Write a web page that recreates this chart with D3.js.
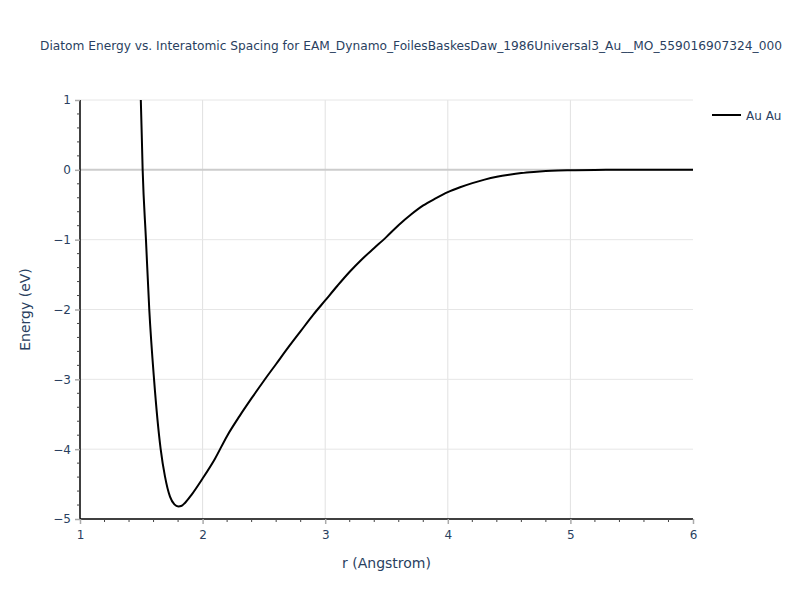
<!DOCTYPE html>
<html><head><meta charset="utf-8">
<script src="https://cdn.jsdelivr.net/npm/d3@7"></script>
<style>body{margin:0;background:#fff;} svg{font-family:"DejaVu Sans",Verdana,sans-serif;}</style>
</head><body><svg id="c" width="800" height="600"></svg>
<script>
const titleText = "Diatom Energy vs. Interatomic Spacing for EAM_Dynamo_FoilesBaskesDaw_1986Universal3_Au__MO_559016907324_000";
const seriesName = "Au Au";
const rValues = [1.47, 1.496, 1.511, 1.538, 1.565, 1.604, 1.658, 1.693, 1.734, 1.770, 1.802, 1.830, 1.856, 1.911, 2.0, 2.1, 2.2, 2.3, 2.4, 2.5, 2.6, 2.7, 2.8, 2.9, 3.0, 3.1, 3.2, 3.3, 3.4, 3.5, 3.6, 3.7, 3.8, 3.9, 4.0, 4.1, 4.2, 4.3, 4.4, 4.5, 4.6, 4.7, 4.8, 4.9, 5.0, 5.2, 5.4, 6.0];
const eValues = [1.6, 1.0, 0.0, -1.0, -2.0, -3.0, -4.0, -4.39, -4.68, -4.79, -4.82, -4.81, -4.77, -4.65, -4.42, -4.14, -3.81, -3.53, -3.27, -3.02, -2.78, -2.54, -2.31, -2.08, -1.87, -1.66, -1.46, -1.28, -1.12, -0.96, -0.79, -0.64, -0.51, -0.41, -0.32, -0.25, -0.19, -0.14, -0.10, -0.07, -0.046, -0.03, -0.018, -0.01, -0.005, -0.001, 0.0, 0.0];
const xTicks = [1, 2, 3, 4, 5, 6];
const yTicks = [1, 0, -1, -2, -3, -4, -5];

const svg = d3.select("#c");
const L = 80, R = 693, T = 100, B = 519;
const x = d3.scaleLinear().domain([1, 6]).range([L, R]);
const y = d3.scaleLinear().domain([-5, 1]).range([B, T]);
const txt = "#2a3f5f";

svg.append("text").attr("x", 40).attr("y", 50).attr("font-size", 12.2).attr("fill", txt).text(titleText);

// grid
const g = svg.append("g");
g.selectAll("line.gx").data(xTicks.filter(d => d > 1 && d < 6)).enter().append("line")
  .attr("x1", d => x(d)).attr("x2", d => x(d)).attr("y1", T).attr("y2", B)
  .attr("stroke", "#e1e1e1").attr("stroke-width", 1);
g.selectAll("line.gy").data(yTicks.filter(d => d !== 0 && d !== -5)).enter().append("line")
  .attr("x1", L).attr("x2", R).attr("y1", d => y(d)).attr("y2", d => y(d))
  .attr("stroke", "#e6e6e6").attr("stroke-width", 1);
g.append("line").attr("x1", L).attr("x2", R).attr("y1", y(0)).attr("y2", y(0))
  .attr("stroke", "#cccccc").attr("stroke-width", 2);

// clip
svg.append("clipPath").attr("id", "clip").append("rect").attr("x", L).attr("y", T).attr("width", R - L).attr("height", B - T);

const data = rValues.map((r, i) => [r, eValues[i]]);
svg.append("path").datum(data).attr("clip-path", "url(#clip)")
  .attr("fill", "none").attr("stroke", "#000").attr("stroke-width", 2)
  .attr("d", d3.line().x(d => x(d[0])).y(d => y(d[1])).curve(d3.curveMonotoneX));

// axes
const xAxis = svg.append("g").attr("transform", `translate(0,${B})`)
  .call(d3.axisBottom(x).tickValues(xTicks).tickSize(5).tickPadding(6).tickFormat(d3.format("d")));
const yAxis = svg.append("g").attr("transform", `translate(${L},0)`)
  .call(d3.axisLeft(y).tickValues(yTicks).tickSize(5).tickPadding(4).tickFormat(d => d < 0 ? "\u2212" + Math.abs(d) : d));
[xAxis, yAxis].forEach(a => {
  a.select(".domain").attr("stroke", "#000").attr("stroke-width", 1.5);
  a.selectAll(".tick line").attr("stroke", "#aaaaaa").attr("stroke-width", 1.5);
  a.selectAll(".tick text").attr("fill", txt).attr("font-size", 12).attr("font-family", "\"DejaVu Sans\",Verdana,sans-serif");
});
yAxis.select(".domain").attr("d", `M0,${B}V${T}`);
xAxis.select(".domain").attr("d", `M${L},0H${R}`);
// minor ticks
const xMinor = d3.range(1, 6.001, 0.2).filter(v => Math.abs(v - Math.round(v)) > 1e-6);
svg.append("g").selectAll("line").data(xMinor).enter().append("line")
  .attr("x1", d => x(d)).attr("x2", d => x(d)).attr("y1", B).attr("y2", B + 3)
  .attr("stroke", "#444").attr("stroke-width", 1);
const yMinor = d3.range(-5, 1.001, 0.2).filter(v => Math.abs(v - Math.round(v)) > 1e-6);
svg.append("g").selectAll("line").data(yMinor).enter().append("line")
  .attr("x1", L - 3).attr("x2", L).attr("y1", d => y(d)).attr("y2", d => y(d))
  .attr("stroke", "#444").attr("stroke-width", 1);

// axis titles
svg.append("text").attr("x", (L + R) / 2).attr("y", 568).attr("text-anchor", "middle")
  .attr("font-size", 14).attr("fill", txt).text("r (Angstrom)");
svg.append("text").attr("transform", `translate(30,${(T + B) / 2}) rotate(-90)`).attr("text-anchor", "middle")
  .attr("font-size", 14).attr("fill", txt).text("Energy (eV)");

// legend
svg.append("line").attr("x1", 712).attr("x2", 741).attr("y1", 115).attr("y2", 115).attr("stroke", "#000").attr("stroke-width", 2);
svg.append("text").attr("x", 746).attr("y", 119.5).attr("font-size", 12).attr("fill", txt).text(seriesName);
</script></body></html>
